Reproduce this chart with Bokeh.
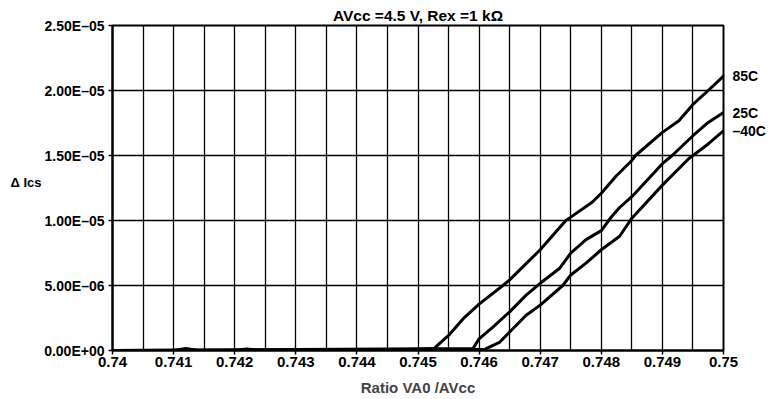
import numpy as np
from bokeh.plotting import figure
from bokeh.models import Range1d, FixedTicker, CustomJSTickFormatter, LinearAxis, Title
from bokeh.embed import file_html
from bokeh.resources import INLINE

# ---- data (y values in microamperes, converted to A below) ----
x85 = [0.7400, 0.7410, 0.7412, 0.7414, 0.7420, 0.7422, 0.7424, 0.7440, 0.7450,
       0.74526, 0.7455, 0.74574, 0.7460, 0.74639, 0.7465, 0.7470, 0.74742, 0.7475,
       0.74785, 0.7480, 0.74824, 0.7485, 0.74856, 0.7490, 0.74927, 0.7495, 0.74975, 0.7500]
y85_u = [0, 0, 0.15, 0, 0, 0.12, 0, 0, 0.1,
         0.15, 1.16, 2.45, 3.57, 5.0, 5.43, 7.75, 10.0, 10.26,
         11.4, 12.1, 13.4, 14.62, 15.0, 16.78, 17.67, 18.93, 20.0, 21.1]

x25 = [0.7400, 0.7459, 0.7460, 0.74623, 0.7465, 0.74677, 0.7470, 0.74732, 0.7475,
       0.74775, 0.7480, 0.74816, 0.7483, 0.7485, 0.7490, 0.74916, 0.7495, 0.74975, 0.7500]
y25_u = [0, 0.15, 0.9, 1.81, 2.97, 4.26, 5.17, 6.33, 7.49,
         8.53, 9.22, 10.25, 11.0, 11.83, 14.37, 15.0, 16.52, 17.54, 18.3]

x40 = [0.7400, 0.7461, 0.74634, 0.7465, 0.74677, 0.7470, 0.74737, 0.7475, 0.74775,
       0.7480, 0.7483, 0.7485, 0.7490, 0.74943, 0.7495, 0.74975, 0.7500]
y40_u = [0, 0.1, 0.65, 1.42, 2.71, 3.49, 5.0, 5.81, 6.72,
         7.75, 8.79, 10.18, 12.72, 14.75, 15.0, 15.89, 16.9]

series_names = ["85C", "25C", "\u201340C"]

x_ticks = [0.740, 0.741, 0.742, 0.743, 0.744, 0.745, 0.746, 0.747, 0.748, 0.749, 0.750]
x_grid = [0.7400, 0.7405, 0.7410, 0.7415, 0.7420, 0.7425, 0.7430, 0.7435, 0.7440, 0.7445,
          0.7450, 0.7455, 0.7460, 0.7465, 0.7470, 0.7475, 0.7480, 0.7485, 0.7490, 0.7495, 0.7500]
y_ticks = [0.0, 5e-6, 1e-5, 1.5e-5, 2e-5, 2.5e-5]

title_text = "AVcc =4.5 V, Rex =1 k\u03a9"
x_label = "Ratio VA0 /AVcc"
y_label = "\u0394 Ics"
y_label_at = 1.29e-5

y85 = np.array(y85_u) * 1e-6
y25 = np.array(y25_u) * 1e-6
y40 = np.array(y40_u) * 1e-6

FONT = "Liberation Sans"

title = Title(text=title_text, align="center", text_font=FONT, text_font_style="bold",
              text_font_size="15.5px", text_color="black", standoff=4, offset=0)

p = figure(width=773, height=399, output_backend="svg", toolbar_location=None,
           title=title,
           x_range=Range1d(0.74, 0.75), y_range=Range1d(0, 2.5e-5),
           min_border_left=112, min_border_right=50, min_border_top=25, min_border_bottom=49)

p.outline_line_color = "black"
p.outline_line_width = 2
p.background_fill_color = "white"
p.border_fill_color = "white"

# grids
p.xgrid.ticker = FixedTicker(ticks=x_grid)
p.ygrid.ticker = FixedTicker(ticks=y_ticks)
for g in (p.xgrid, p.ygrid):
    g.grid_line_color = "black"
    g.grid_line_width = 1.3
    g.grid_line_alpha = 1.0

# axes
p.xaxis.ticker = FixedTicker(ticks=x_ticks)
p.yaxis.ticker = FixedTicker(ticks=y_ticks)
p.xaxis.formatter = CustomJSTickFormatter(code="""
return tick.toFixed(3).replace(/0+$/, "");
""")
p.yaxis.formatter = CustomJSTickFormatter(code="""
if (Math.abs(tick) < 1e-20) return "0.00E+00";
const e = Math.floor(Math.log10(Math.abs(tick)) + 1e-9);
const m = tick / Math.pow(10, e);
const a = Math.abs(e);
const es = a < 10 ? "0" + a : "" + a;
return m.toFixed(2) + "E" + (e < 0 ? "\\u2013" : "+") + es;
""")
for ax in (p.xaxis, p.yaxis):
    ax.axis_line_color = "black"
    ax.axis_line_width = 2
    ax.major_tick_line_color = "black"
    ax.major_tick_line_width = 1.5
    ax.major_tick_out = 4
    ax.major_tick_in = 0
    ax.minor_tick_line_color = None
    ax.major_label_text_font = FONT
    ax.major_label_text_font_style = "bold"
    ax.major_label_text_color = "black"
p.yaxis.major_label_text_font_size = "14px"
p.xaxis.major_label_text_font_size = "15px"
p.yaxis.major_label_standoff = 4
p.xaxis.major_label_standoff = 2

p.xaxis.axis_label = x_label
p.xaxis.axis_label_text_font = FONT
p.xaxis.axis_label_text_font_style = "bold"
p.xaxis.axis_label_text_font_size = "15px"
p.xaxis.axis_label_standoff = 9

# horizontal y-axis title, drawn as the single label of an outer left axis
ylab_axis = LinearAxis(ticker=FixedTicker(ticks=[y_label_at]),
                       formatter=CustomJSTickFormatter(args=dict(t=y_label), code="return t;"))
ylab_axis.axis_line_color = None
ylab_axis.major_tick_line_color = None
ylab_axis.minor_tick_line_color = None
ylab_axis.major_tick_out = 0
ylab_axis.major_label_standoff = 0
ylab_axis.major_label_text_font = FONT
ylab_axis.major_label_text_font_style = "bold"
ylab_axis.major_label_text_font_size = "13px"
ylab_axis.major_label_text_color = "black"
p.add_layout(ylab_axis, "left")

# curves
for xs, ys in ((x85, y85), (x25, y25), (x40, y40)):
    p.line(xs, ys, line_color="black", line_width=3, line_join="round", line_cap="round")

# series names at the curve ends, as labels of a right-hand axis
ends = [float(y85[-1]), float(y25[-1]), float(y40[-1])]
name_axis = LinearAxis(ticker=FixedTicker(ticks=ends),
                       formatter=CustomJSTickFormatter(args=dict(vals=ends, names=series_names), code="""
let best = 0, bd = Infinity;
for (let i = 0; i < vals.length; i++) {
  const d = Math.abs(vals[i] - tick);
  if (d < bd) { bd = d; best = i; }
}
return names[best];
"""))
name_axis.axis_line_color = None
name_axis.major_tick_line_color = None
name_axis.minor_tick_line_color = None
name_axis.major_tick_out = 0
name_axis.major_label_standoff = 9
name_axis.major_label_text_font = FONT
name_axis.major_label_text_font_style = "bold"
name_axis.major_label_text_font_size = "14px"
name_axis.major_label_text_color = "black"
p.add_layout(name_axis, "right")

open("out.html", "w").write(file_html(p, INLINE))
